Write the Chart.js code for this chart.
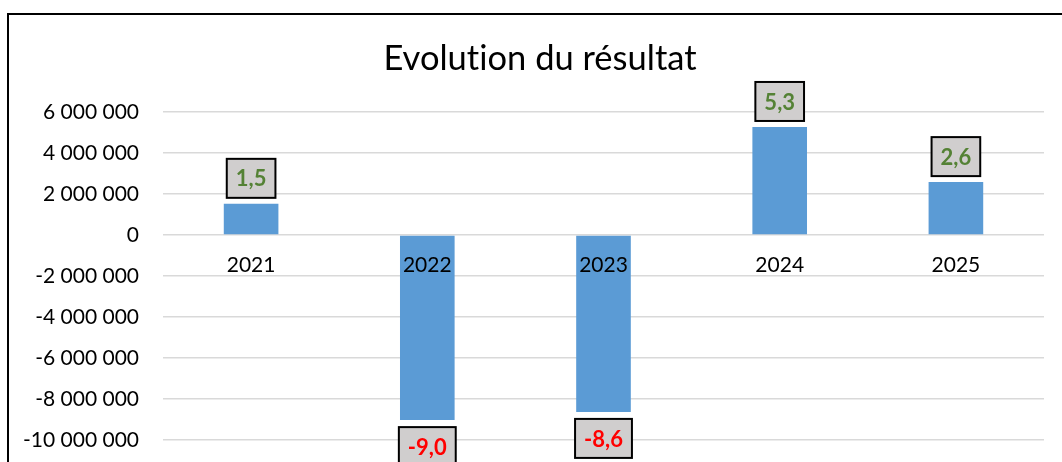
<!DOCTYPE html>
<html><head><meta charset="utf-8">
<script src="https://cdn.jsdelivr.net/npm/chart.js@4.4.1/dist/chart.umd.min.js"></script>
<style>
html,body{margin:0;padding:0;overflow:hidden;background:#fff;width:1062px;height:462px;}
#frame{position:absolute;left:7px;top:13px;width:1120px;height:520px;border:2px solid #000;box-sizing:border-box;}
#wrap{position:absolute;left:0;top:0;width:1062px;height:462px;}
</style></head><body>
<div id="frame"></div>
<div id="wrap"><canvas id="c" width="1062" height="462"></canvas></div>
<script>
const categories = ['2021', '2022', '2023', '2024', '2025'];
const resultValues = [1520000, -9030000, -8630000, 5270000, 2580000];
const yMin = -10000000;
const yMax = 6000000;
const yStep = 2000000;
const titleText = 'Evolution du résultat';

const FONT = 'Lato';

function fmtThousands(v) {
  const s = String(Math.abs(Math.round(v))).replace(/\B(?=(\d{3})+(?!\d))/g, ' ');
  return (v < 0 ? '-' : '') + s;
}
function fmtMillions(v) {
  return (v / 1e6).toFixed(1).replace('.', ',');
}

const noLigatures = {
  id: 'noLigatures',
  beforeDraw(chart) {
    try { chart.ctx.textRendering = 'optimizeSpeed'; } catch (e) {}
  }
};

const chartTitle = {
  id: 'chartTitle',
  afterDraw(chart) {
    const ctx = chart.ctx;
    ctx.save();
    try { ctx.textRendering = 'optimizeSpeed'; } catch (e) {}
    ctx.font = '34.5px ' + FONT;
    ctx.fillStyle = '#000';
    ctx.textAlign = 'center';
    ctx.textBaseline = 'alphabetic';
    ctx.fillText(titleText, 540, 70);
    ctx.restore();
  }
};

const boxLabels = {
  id: 'boxLabels',
  afterDatasetsDraw(chart) {
    const ctx = chart.ctx;
    const meta = chart.getDatasetMeta(0);
    const data = chart.data.datasets[0].data;
    ctx.save();
    ctx.font = 'bold 22px ' + FONT;
    meta.data.forEach((bar, i) => {
      const v = data[i];
      const txt = fmtMillions(v);
      const tw = ctx.measureText(txt).width;
      const w = tw + 18, h = 39;
      const x0 = bar.x - w / 2;
      const y0 = v >= 0 ? bar.y - 6 - h : bar.y + 7;
      ctx.fillStyle = '#d0cece';
      ctx.fillRect(x0, y0, w, h);
      ctx.lineWidth = 2;
      ctx.strokeStyle = '#000';
      ctx.strokeRect(x0, y0, w, h);
      ctx.fillStyle = v >= 0 ? '#548235' : '#ff0000';
      ctx.textAlign = 'center';
      ctx.textBaseline = 'middle';
      ctx.fillText(txt, bar.x, y0 + h / 2 + 1);
    });
    ctx.restore();
  }
};

new Chart(document.getElementById('c'), {
  type: 'bar',
  data: {
    labels: categories,
    datasets: [{
      data: resultValues,
      backgroundColor: '#5b9bd5',
      barPercentage: 0.31,
      categoryPercentage: 1.0
    }]
  },
  options: {
    responsive: false,
    devicePixelRatio: 1,
    animation: false,
    layout: { padding: { left: 0, right: 18, top: 112, bottom: 22 } },
    plugins: {
      legend: { display: false },
      tooltip: { enabled: false },
      title: { display: false }
    },
    scales: {
      x: {
        position: { y: 0 },
        offset: true,
        grid: { display: false },
        border: { display: false },
        ticks: { z: 1, autoSkip: false, color: '#000', font: { family: FONT, size: 21 }, padding: 10 }
      },
      y: {
        min: yMin,
        max: yMax,
        border: { display: false },
        grid: { color: '#d9d9d9', lineWidth: 1.5, drawTicks: true, tickLength: 24, tickColor: 'rgba(0,0,0,0)' },
        ticks: {
          stepSize: yStep,
          color: '#000',
          padding: 0,
          font: { family: FONT, size: 21 },
          callback: (v) => fmtThousands(v)
        },
        afterFit(s) { s.width = 163; }
      }
    }
  },
  plugins: [noLigatures, boxLabels, chartTitle]
});
</script>
</body></html>
